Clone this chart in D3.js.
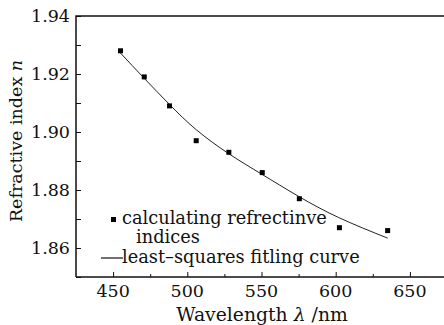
<!DOCTYPE html>
<html lang="en">
<head>
  <meta charset="UTF-8">
  <title>Refractive index</title>
  <script src="https://cdnjs.cloudflare.com/ajax/libs/d3/7.8.5/d3.min.js"></script>
  <style>
    body { margin: 0; background: #fff; }
    text { font-family: "DejaVu Serif", "Liberation Serif", serif; fill: #111; }
  </style>
</head>
<body>
  <script>
var width = 444, height = 325;
var margin = {top: 16, right: -3, bottom: 48, left: 76};

// measured points
var wavelength = [455, 471, 488, 506, 528, 550.5, 575.5, 602.5, 635];
var refIndex = [1.928, 1.919, 1.909, 1.897, 1.893, 1.886, 1.877, 1.867, 1.866];

// least-squares curve
var fitWavelength = [455, 471, 488, 506, 528, 550, 575, 602, 635];
var fitIndex = [1.9272, 1.9185, 1.9095, 1.9008, 1.8925, 1.8855, 1.8778, 1.8705, 1.8634];

var xTicks = [450, 500, 550, 600, 650];
var yTicks = [1.86, 1.88, 1.90, 1.92, 1.94];

var svg = d3.select("body").append("svg")
    .attr("width", width)
    .attr("height", height);

var x = d3.scaleLinear().domain([425, 675]).range([margin.left, width - margin.right]);
var y = d3.scaleLinear().domain([1.85, 1.94]).range([height - margin.bottom, margin.top]);

var x0 = margin.left, y0 = height - margin.bottom;

// x axis, ticks inside
var xAxis = svg.append("g")
    .attr("transform", "translate(0," + y0 + ")")
    .call(d3.axisTop(x).tickValues(d3.range(450, 676, 25)).tickSize(5).tickFormat(""));
xAxis.selectAll(".tick line").attr("y2", function(d) { return d % 50 == 0 ? -5 : -3; });
xAxis.select(".domain").remove();
svg.selectAll(".xl").data(xTicks).enter().append("text")
    .attr("x", function(d) { return x(d); })
    .attr("y", 297)
    .attr("text-anchor", "middle")
    .style("font-size", "17.5px")
    .text(function(d) { return d; });

// y axis
var yAxis = svg.append("g")
    .attr("transform", "translate(" + x0 + ",0)")
    .call(d3.axisRight(y).tickValues(d3.range(1.85, 1.9401, 0.01)).tickSize(5).tickFormat(""));
yAxis.select(".domain").remove();
svg.selectAll(".yl").data(yTicks).enter().append("text")
    .attr("x", 70)
    .attr("y", function(d) { return y(d) + 6; })
    .attr("text-anchor", "end")
    .style("font-size", "17.5px")
    .text(function(d) { return d.toFixed(2); });

svg.selectAll(".tick line").attr("stroke", "#111").attr("stroke-width", 1);

// frame
svg.append("path")
    .attr("d", "M" + x0 + "," + y0 + "V" + margin.top + "H" + width)
    .attr("fill", "none").attr("stroke", "#111").attr("stroke-width", 1.5);
svg.append("line")
    .attr("x1", x0).attr("x2", width).attr("y1", y0).attr("y2", y0)
    .attr("stroke", "#111").attr("stroke-width", 1.5);

// fitting curve
var line = d3.line()
    .x(function(d) { return x(d[0]); })
    .y(function(d) { return y(d[1]); })
    .curve(d3.curveNatural);
svg.append("path")
    .datum(d3.zip(fitWavelength, fitIndex))
    .attr("d", line)
    .attr("fill", "none").attr("stroke", "#222").attr("stroke-width", 1);

// points
svg.selectAll(".pt").data(d3.zip(wavelength, refIndex)).enter().append("rect")
    .attr("x", function(d) { return x(d[0]) - 2.5; })
    .attr("y", function(d) { return y(d[1]) - 2.5; })
    .attr("width", 5).attr("height", 5)
    .attr("fill", "#000");

// legend
svg.append("rect").attr("x", 111).attr("y", 217).attr("width", 5).attr("height", 5).attr("fill", "#000");
svg.append("text").attr("x", 122).attr("y", 224).style("font-size", "17.8px").text("calculating refrectinve");
svg.append("text").attr("x", 136).attr("y", 243).style("font-size", "17.8px").text("indices");
svg.append("line").attr("x1", 101).attr("x2", 123).attr("y1", 258).attr("y2", 258)
    .attr("stroke", "#111").attr("stroke-width", 1.2);
svg.append("text").attr("x", 122).attr("y", 263).style("font-size", "17.8px").text("least\u2013squares fitling curve");

// axis titles
var xt = svg.append("text")
    .attr("x", 262).attr("y", 321)
    .attr("text-anchor", "middle")
    .style("font-size", "18.8px");
xt.append("tspan").text("Wavelength ");
xt.append("tspan").style("font-style", "italic").text("\u03bb");
xt.append("tspan").text(" /nm");

var yt = svg.append("text")
    .attr("transform", "translate(22,141) rotate(-90)")
    .attr("text-anchor", "middle")
    .style("font-size", "17.5px");
yt.append("tspan").text("Refractive index ");
yt.append("tspan").style("font-style", "italic").text("n");
  </script>
</body>
</html>
